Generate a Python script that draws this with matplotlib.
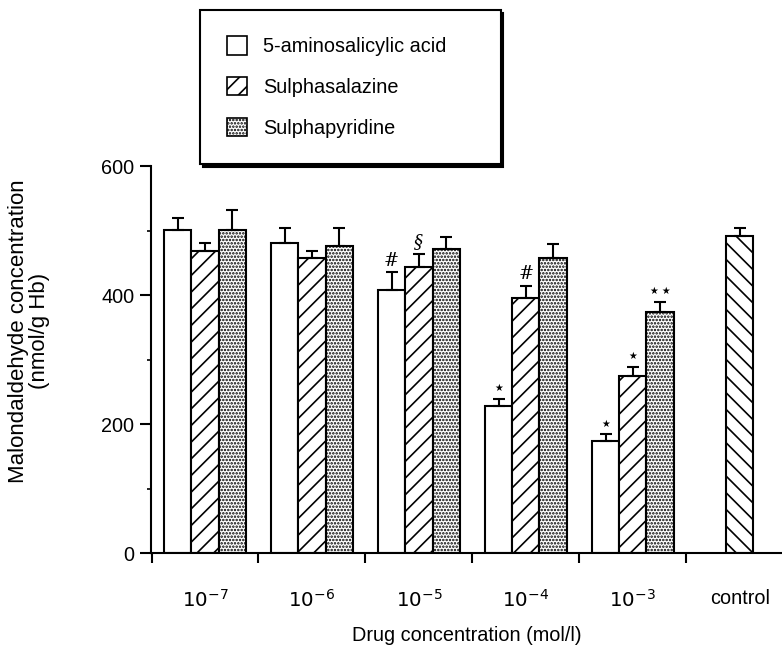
import numpy as np
import matplotlib
matplotlib.use("Agg")
import matplotlib.pyplot as plt
from matplotlib.patches import Patch

plt.rcParams['font.family'] = ['Liberation Sans', 'DejaVu Sans']
plt.rcParams['hatch.linewidth'] = 1.2

groups = ['$10^{-7}$', '$10^{-6}$', '$10^{-5}$', '$10^{-4}$', '$10^{-3}$']
series = ['5-aminosalicylic acid', 'Sulphasalazine', 'Sulphapyridine']

asa_mean = [501, 481, 408, 228, 174]
asa_err = [18, 23, 27, 11, 10]
ssz_mean = [468, 457, 443, 395, 274]
ssz_err = [13, 11, 21, 19, 14]
spy_mean = [501, 476, 471, 457, 374]
spy_err = [31, 28, 19, 22, 15]

control_mean = 491
control_err = 13

# significance marks: (group, series index, text)
marks = [(2, 0, '#'), (2, 1, '§'), (3, 0, '*'), (3, 1, '#'),
         (4, 0, '*'), (4, 1, '*'), (4, 2, '**')]

fs = 14.3

fig = plt.figure(figsize=(7.82, 6.49), dpi=100)
ax = fig.add_axes([0.1931, 0.1479, 0.8069, 0.5963])

w = 0.255
x = np.arange(len(groups))
means = [asa_mean, ssz_mean, spy_mean]
errs = [asa_err, ssz_err, spy_err]
hatches = ['', '//', '.....']
ekw = dict(ecolor='black', elinewidth=1.5, capsize=4, capthick=1.5)

for k in range(3):
    ax.bar(x + (k - 1) * w, means[k], w, yerr=[np.zeros(5), errs[k]],
           facecolor='white', edgecolor='black', linewidth=1.5,
           hatch=hatches[k], error_kw=ekw, zorder=2)

ax.bar([5], [control_mean], w, yerr=[[0], [control_err]],
       facecolor='white', edgecolor='black', linewidth=1.5,
       hatch='\\\\', error_kw=ekw, zorder=2)

for g, k, t in marks:
    top = means[k][g] + errs[k][g]
    if t.startswith('*'):
        ax.text(g + (k - 1) * w, top + 9, ' '.join('★' * len(t)),
                ha='center', va='bottom', fontsize=7, family='DejaVu Sans')
    else:
        ax.text(g + (k - 1) * w, top + 4, t, ha='center', va='bottom',
                fontsize=13, family='DejaVu Serif', style='italic')

ax.set_xlim(-0.505, 5.395)
ax.set_ylim(0, 600)
ax.spines['top'].set_visible(False)
ax.spines['right'].set_visible(False)
ax.spines['left'].set_linewidth(1.5)
ax.spines['bottom'].set_linewidth(1.5)

ax.set_yticks([0, 200, 400, 600])
ax.set_yticks([100, 300, 500], minor=True)
ax.tick_params(axis='y', which='major', direction='out', length=8, width=1.5,
               labelsize=fs, pad=4)
ax.tick_params(axis='y', which='minor', direction='out', length=3, width=1.2)

ax.set_xticks(np.arange(-0.5, 5, 1.0))
ax.set_xticklabels([])
ax.set_xticks(list(x) + [5], minor=True)
ax.set_xticklabels(groups + ['control'], minor=True)
ax.tick_params(axis='x', which='major', direction='out', length=7, width=1.5)
ax.tick_params(axis='x', which='minor', length=0, labelsize=fs, pad=26)

fig.text(0.0365, 0.49, 'Malondaldehyde concentration\n(nmol/g Hb)',
         rotation=90, ha='center', va='center', fontsize=16, linespacing=1.0)
ax.set_xlabel('Drug concentration (mol/l)', fontsize=fs, labelpad=11)

handles = [Patch(facecolor='white', edgecolor='black', linewidth=1.2, hatch=h)
           for h in hatches]
labels = [series[0] + '     '] + series[1:]
leg = fig.legend(handles, labels, loc='upper left',
                 bbox_to_anchor=(0.256, 0.985), fontsize=fs,
                 handlelength=1.05, handleheight=1.05, labelspacing=1.05,
                 borderpad=1.33, handletextpad=0.8, fancybox=False,
                 shadow={'color': 'black', 'alpha': 1.0, 'ox': 2, 'oy': -2},
                 borderaxespad=0)
leg.get_frame().set_edgecolor('black')
leg.get_frame().set_linewidth(1.5)

fig.savefig('out.png', dpi=100)
